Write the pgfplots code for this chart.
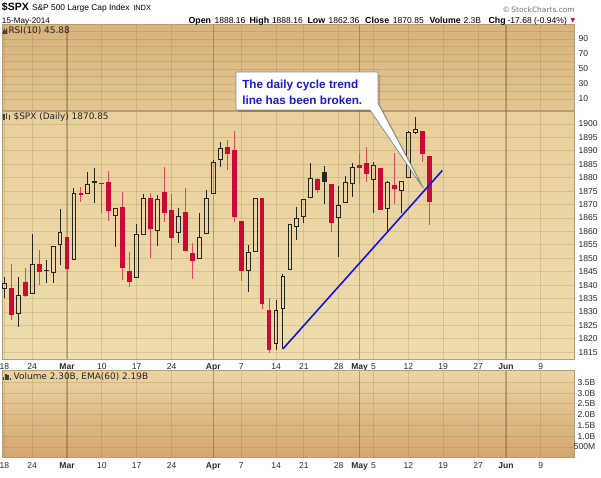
\documentclass[border=0pt]{standalone}
\usepackage{pgfplots}
\pgfplotsset{compat=1.18}
\usepackage{pgfplotstable}
\usepackage{fontspec}
\setmainfont{Liberation Sans}
\newfontfamily\dvs{DejaVu Sans}
\definecolor{cRed}{HTML}{CC0A35}
\definecolor{cWickR}{HTML}{E2475E}
\definecolor{cBlk}{HTML}{26261E}
\definecolor{cBlue}{HTML}{1414E6}
\definecolor{cBorder}{HTML}{B59D74}
\definecolor{cText}{HTML}{2A2A2A}
\definecolor{cCall}{HTML}{1A1AD0}
\definecolor{rsiTop}{HTML}{D8B37B}
\definecolor{rsiMid}{HTML}{DDBB85}
\definecolor{rsiBot}{HTML}{E3C692}
\definecolor{prTop}{HTML}{E8CF9B}
\definecolor{prMid}{HTML}{FBF5D6}
\definecolor{prBot}{HTML}{EEDDAE}
\definecolor{vTop}{HTML}{EBD4A4}
\definecolor{vMid}{HTML}{E2C28D}
\definecolor{vBot}{HTML}{D3A66E}

% red (down) filled candles: index, open, high, low, close
\pgfplotstableread{
i o h l c
1 1838.8 1847.9 1827.0 1828.9
3 1841.1 1846.3 1835.6 1836.1
5 1847.8 1853.1 1840.0 1845.0
9 1857.8 1857.8 1834.5 1845.9
11 1874.2 1876.4 1871.1 1873.6
14 1878.2 1878.2 1866.8 1877.5
15 1878.5 1882.5 1863.9 1867.6
17 1869.2 1874.8 1841.9 1846.5
18 1845.3 1852.5 1839.4 1841.1
21 1872.3 1874.2 1850.2 1860.8
23 1874.8 1884.1 1863.6 1866.8
24 1868.0 1873.8 1849.4 1857.4
26 1867.4 1876.1 1852.7 1852.7
27 1852.1 1855.6 1842.2 1849.1
32 1891.3 1894.0 1882.9 1888.7
33 1890.3 1897.5 1863.4 1865.3
34 1863.9 1863.9 1841.5 1845.3
37 1872.3 1872.5 1831.0 1833.0
38 1830.8 1835.1 1814.6 1815.9
45 1879.5 1879.8 1874.2 1875.4
47 1877.7 1877.7 1859.9 1863.3
51 1884.7 1889.1 1878.0 1883.5
52 1885.4 1891.3 1878.5 1881.4
54 1883.7 1883.7 1868.0 1868.0
56 1877.3 1889.1 1870.2 1875.7
60 1897.4 1897.4 1886.0 1888.7
61 1888.2 1888.2 1862.4 1870.9
}\rfc
% black filled candles
\pgfplotstableread{
i o h l c
6 1845.6 1849.4 1840.7 1845.1
13 1878.7 1883.7 1870.5 1878.0
46 1882.2 1884.4 1870.1 1878.5
}\bfc
% black hollow candles
\pgfplotstableread{
i o h l c
0 1838.8 1842.9 1835.1 1840.7
2 1829.3 1843.2 1824.5 1836.3
4 1837.0 1858.9 1837.0 1847.8
7 1844.8 1854.6 1840.9 1854.5
8 1855.0 1868.2 1847.5 1859.5
10 1849.4 1876.3 1849.4 1874.2
12 1874.2 1882.2 1874.2 1877.3
16 1866.0 1868.4 1854.3 1868.4
19 1842.8 1862.7 1842.8 1858.9
20 1858.9 1873.8 1858.9 1872.3
22 1860.3 1873.6 1854.7 1872.0
25 1859.5 1868.6 1855.8 1865.7
28 1850.0 1866.8 1850.0 1857.8
29 1859.3 1875.4 1859.3 1872.3
30 1874.2 1886.6 1874.2 1885.7
31 1886.6 1893.2 1884.1 1891.0
35 1845.4 1855.0 1837.6 1852.1
36 1852.5 1872.3 1852.5 1872.3
39 1818.4 1834.5 1815.9 1830.5
40 1831.4 1844.0 1816.3 1843.1
41 1846.0 1862.7 1846.0 1862.7
42 1861.8 1869.2 1856.8 1864.9
43 1865.7 1872.0 1863.3 1872.0
44 1872.7 1885.4 1872.7 1879.8
48 1865.3 1876.9 1850.6 1869.6
49 1870.8 1880.6 1870.8 1878.2
50 1877.7 1885.4 1872.7 1883.9
53 1879.5 1885.7 1866.8 1884.7
55 1868.6 1878.8 1859.9 1878.2
57 1875.4 1878.5 1867.0 1878.5
58 1880.2 1897.5 1880.2 1896.8
59 1896.8 1902.5 1896.1 1897.8
}\bhc

\pgfplotsset{
  panel/.style={
    scale only axis, width=429pt, anchor=south west,
    xmin=-0.33, xmax=81.77,
    axis line style={draw=cBorder, line width=0.75pt},
    major tick length=0pt, minor tick length=0pt,
    xtick={0,4,9,14,19,24,30,34,39,43,48,51,53,58,63,68,72,77},
    xticklabels={18,24,\textbf{Mar},10,17,24,\textbf{Apr},7,14,21,28,\textbf{May},5,12,19,27,\textbf{Jun},9},
    grid=major,
    major grid style={draw=brown!60!black, draw opacity=0.16, line width=0.6pt},
    extra x ticks={9,30,51,72},
    extra x tick labels={},
    extra x tick style={grid=major, major grid style={draw=brown!60!black, draw opacity=0.32, line width=1.1pt}},
    yticklabel pos=right,
    ticklabel style={font=\fontsize{6.4}{7}\selectfont, text=cText},
    /pgf/number format/assume math mode=true,
    /pgf/number format/1000 sep={},
  },
  nomk/.style={only marks, mark=*, mark size=0.01pt, mark options={draw=none, fill=none, draw opacity=0, fill opacity=0}},
  eb/.style 2 args={nomk,
    error bars/y explicit, error bars/error mark=none,
    error bars/error bar style={line width=#2, color=#1, line cap=butt}},
  ebx/.style={nomk,
    error bars/x explicit, error bars/error mark=none, error bars/x dir=plus,
    error bars/error bar style={line width=0.75pt, color=#1, line cap=rect}},
}

\begin{document}
\begin{tikzpicture}
\path[use as bounding box, fill=white] (0,0) rectangle (450.75pt,358.5pt);

% ---------- RSI panel ----------
\begin{axis}[panel, at={(1.5pt,275.25pt)}, height=64.5pt,
  axis background/.style={top color=rsiTop, middle color=rsiMid, bottom color=rsiBot},
  ymin=-6, ymax=108.7, ytick={10,20,...,100},
  yticklabels={10,,30,,50,,70,,90,},
  xticklabels={}]
\end{axis}

% ---------- Price panel ----------
\begin{axis}[panel, at={(1.5pt,89.025pt)}, height=186.225pt,
  axis background/.style={top color=prTop, middle color=prMid, bottom color=prBot},
  ymin=1812.4, ymax=1904.84, ytick={1815,1820,...,1900}]
% red filled
\addplot[eb={cWickR}{0.75pt}, error bars/y dir=plus]
  table[x=i, y=l, y error expr=\thisrow{h}-\thisrow{l}] {\rfc};
\addplot[eb={cRed}{3.6pt}, error bars/y dir=plus]
  table[x=i, y=c, y error expr={max(\thisrow{o}-\thisrow{c},0.4)}] {\rfc};
% black filled
\addplot[eb={cBlk}{0.75pt}, error bars/y dir=plus]
  table[x=i, y=l, y error expr=\thisrow{h}-\thisrow{l}] {\bfc};
\addplot[eb={cBlk}{3.6pt}, error bars/y dir=plus]
  table[x=i, y=c, y error expr={max(\thisrow{o}-\thisrow{c},0.4)}] {\bfc};
% black hollow: wicks
\addplot[eb={cBlk}{0.75pt}, error bars/y dir=plus]
  table[x=i, y=c, y error expr=\thisrow{h}-\thisrow{c}] {\bhc};
\addplot[eb={cBlk}{0.75pt}, error bars/y dir=minus]
  table[x=i, y=o, y error expr=\thisrow{o}-\thisrow{l}] {\bhc};
% black hollow: body outline
\addplot[eb={cBlk}{0.75pt}, error bars/y dir=plus, error bars/error bar style={line cap=rect}]
  table[x expr=\thisrow{i}-0.28, y=o, y error expr=\thisrow{c}-\thisrow{o}] {\bhc};
\addplot[eb={cBlk}{0.75pt}, error bars/y dir=plus, error bars/error bar style={line cap=rect}]
  table[x expr=\thisrow{i}+0.28, y=o, y error expr=\thisrow{c}-\thisrow{o}] {\bhc};
\addplot[ebx=cBlk]
  table[x expr=\thisrow{i}-0.28, y=o, x error expr=0.56] {\bhc};
\addplot[ebx=cBlk]
  table[x expr=\thisrow{i}-0.28, y=c, x error expr=0.56] {\bhc};
% trend line
\addplot[cBlue, line width=1.2pt] coordinates {(40,1816.3) (62.87,1882.7)};
\end{axis}

% ---------- Volume panel ----------
\begin{axis}[panel, at={(1.5pt,15.225pt)}, height=65.25pt,
  axis background/.style={top color=vTop, middle color=vMid, bottom color=vBot},
  ymin=0, ymax=4.04, ytick={0.5,1,...,3.5},
  yticklabels={500M,1.0B,1.5B,2.0B,2.5B,3.0B,3.5B},
  yticklabel style={anchor=east, xshift=19.5pt}]
\end{axis}

% ---------- header ----------
\node[anchor=base west, inner sep=0, font=\fontsize{7.9}{8}\selectfont\bfseries] at (1.3pt,350.6pt) {\$SPX};
\node[anchor=base west, inner sep=0, font=\fontsize{6.3}{7}\selectfont] at (23.8pt,350.6pt) {S\&P 500 Large Cap Index};
\node[anchor=base west, inner sep=0, font=\fontsize{5.6}{6}\selectfont] at (99.75pt,350.6pt) {INDX};
\node[anchor=base west, inner sep=0, font=\fontsize{6.1}{7}\selectfont] at (1.3pt,340.5pt) {15-May-2014};
\node[anchor=base east, inner sep=0, font=\fontsize{5.6}{6}\selectfont, text=black!55] at (431.25pt,349.1pt) {\dvs ©\,StockCharts.com};
\begin{scope}[every node/.style={anchor=base west, inner sep=0, font=\fontsize{6.4}{7}\selectfont}]
\node[font=\fontsize{6.6}{7}\selectfont\bfseries] at (141.2pt,340.9pt) {Open};
\node at (160.7pt,340.9pt) {1888.16};
\node[font=\fontsize{6.6}{7}\selectfont\bfseries] at (187pt,340.9pt) {High};
\node at (203.8pt,340.9pt) {1888.16};
\node[font=\fontsize{6.6}{7}\selectfont\bfseries] at (230.5pt,340.9pt) {Low};
\node at (246.2pt,340.9pt) {1862.36};
\node[font=\fontsize{6.6}{7}\selectfont\bfseries] at (273.7pt,340.9pt) {Close};
\node at (294.5pt,340.9pt) {1870.85};
\node[font=\fontsize{6.6}{7}\selectfont\bfseries] at (322pt,340.9pt) {Volume};
\node at (347.5pt,340.9pt) {2.3B};
\node[font=\fontsize{6.6}{7}\selectfont\bfseries] at (366.2pt,340.9pt) {Chg};
\node at (380.5pt,340.9pt) {-17.68 (-0.94\%)};
\end{scope}
\node[anchor=base west, inner sep=0, text=cRed, font=\fontsize{4.5}{5}\selectfont] at (427.7pt,341.6pt) {\dvs ▼};

% ---------- panel labels ----------
\begin{scope}[every node/.style={anchor=base west, inner sep=0, font=\fontsize{6.7}{7}\selectfont\dvs, text=black!85}]
\node at (6.2pt,333pt) {RSI(10) 45.88};
\node at (10pt,268.5pt) {\$SPX (Daily) 1870.85};
\node at (10.1pt,73.5pt) {Volume 2.30B, EMA(60) 2.19B};
\end{scope}
% small icons
\fill[black!75] (1.8pt,333pt) -- (3pt,337.5pt) -- (4pt,335pt) -- (5.2pt,337.8pt) -- (5.6pt,333pt) -- cycle;
\fill[black!75] (2.4pt,268.5pt) rectangle (3.4pt,273pt);
\fill[black!75] (4.4pt,269.5pt) rectangle (5.4pt,274pt);
\fill[black!75] (6.4pt,268.5pt) rectangle (7.4pt,272pt);
\fill[black!75] (2.4pt,73.5pt) rectangle (3.3pt,76pt);
\fill[black!75] (4pt,73.5pt) rectangle (4.9pt,78pt);
\fill[black!75] (5.6pt,73.5pt) rectangle (6.5pt,77pt);
\fill[black!75] (7.2pt,73.5pt) rectangle (8.1pt,75pt);

% ---------- callout ----------
\fill[black, opacity=0.18] (178.5pt,302.5pt) -- (285pt,302.5pt) -- (285pt,280pt) -- (319pt,215.8pt) -- (279pt,274.5pt) -- (178.5pt,274.5pt) -- cycle;
\draw[fill=white, draw=black!45, line width=0.6pt, line join=round]
  (177pt,304.5pt) -- (283.5pt,304.5pt) -- (283.5pt,281.25pt) -- (317.5pt,217.3pt) -- (277.5pt,276pt) -- (177pt,276pt) -- cycle;
\node[anchor=base west, inner sep=0, text=cCall, font=\fontsize{8.8}{9}\selectfont\bfseries] at (181.5pt,292.1pt) {The daily cycle trend};
\node[anchor=base west, inner sep=0, text=cCall, font=\fontsize{8.8}{9}\selectfont\bfseries] at (181.5pt,280.1pt) {line has been broken.};
\end{tikzpicture}
\end{document}
